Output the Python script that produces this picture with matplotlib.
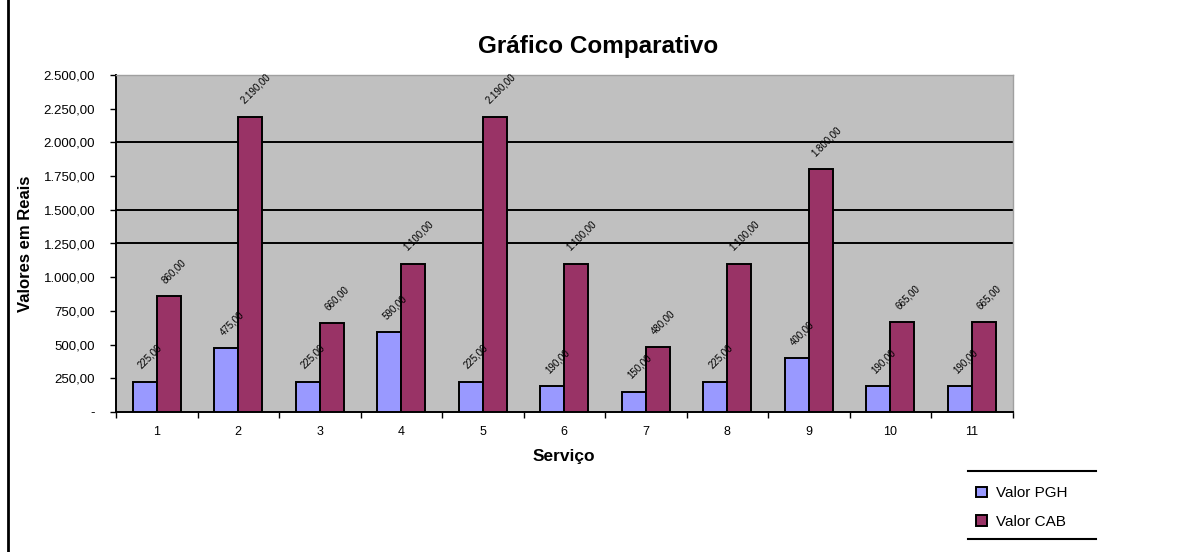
import matplotlib
matplotlib.use("Agg")
import matplotlib.pyplot as plt
from matplotlib.lines import Line2D
import numpy as np

plt.rcParams["font.family"] = ["Liberation Sans", "DejaVu Sans"]

# Service numbers and the two price series (R$)
servicos = ["1", "2", "3", "4", "5", "6", "7", "8", "9", "10", "11"]
valor_pgh = [225, 475, 225, 590, 225, 190, 150, 225, 400, 190, 190]
valor_cab = [860, 2190, 660, 1100, 2190, 1100, 480, 1100, 1800, 665, 665]
y_ticks = [0, 250, 500, 750, 1000, 1250, 1500, 1750, 2000, 2250, 2500]
grid_values = [1250, 1500, 2000]


def brl(v):
    """Format a number the Brazilian way: 1.234,00 ; zero shown as '-'."""
    if v == 0:
        return "-"
    s = f"{v:,.2f}"
    return s.replace(",", "X").replace(".", ",").replace("X", ".")


W, H = 1177, 552
fig = plt.figure(figsize=(W / 100, H / 100), dpi=100)
fig.patch.set_facecolor("white")

ax = fig.add_axes([116 / W, 1 - 412 / H, (1012.5 - 116) / W, (412 - 75) / H])
ax.set_facecolor("#C0C0C0")

x = np.arange(len(servicos))
bw = 0.295
pgh_bars = ax.bar(x - bw / 2, valor_pgh, bw, color="#9999FF", edgecolor="black",
                  linewidth=1.4, label="Valor PGH", zorder=3)
cab_bars = ax.bar(x + bw / 2, valor_cab, bw, color="#993366", edgecolor="black",
                  linewidth=1.4, label="Valor CAB", zorder=3)

for bars, vals in ((pgh_bars, valor_pgh), (cab_bars, valor_cab)):
    for b, v in zip(bars, vals):
        ax.annotate(brl(v), (b.get_x() + b.get_width() / 2, v),
                    xytext=(4, 8), textcoords="offset points",
                    rotation=45, ha="center", va="bottom",
                    fontsize=7, color="black", zorder=4)

for g in grid_values:
    ax.axhline(g, color="black", linewidth=1.4, zorder=1)

ax.set_xlim(-0.5, len(servicos) - 0.5)
ax.set_ylim(0, 2500)
ax.set_yticks(y_ticks)
ax.set_yticklabels([brl(v) for v in y_ticks], fontsize=9.5)
ax.set_xticks(x)
ax.set_xticklabels(servicos, fontsize=9)
ax.set_xticks(np.arange(-0.5, len(servicos)), minor=True)
ax.tick_params(axis="x", which="major", length=0, pad=10)
ax.tick_params(axis="x", which="minor", length=4, width=1, direction="out")
ax.tick_params(axis="y", length=4, width=1, direction="out", pad=11)

for side in ("top", "right"):
    ax.spines[side].set_color("#A0A0A0")
    ax.spines[side].set_linewidth(1)
for side in ("left", "bottom"):
    ax.spines[side].set_color("black")
    ax.spines[side].set_linewidth(1.4)

ax.set_xlabel("Serviço", fontsize=12.5, fontweight="bold", labelpad=8)
ax.set_ylabel("Valores em Reais", fontsize=12, fontweight="bold")
ax.yaxis.set_label_coords(-0.093, 0.5)

fig.text(598 / W, 1 - 47 / H, "Gráfico Comparativo", ha="center", va="center",
         fontsize=17.5, fontweight="bold")

# Legend with rules above and below
fig.legend(handles=[pgh_bars, cab_bars], labels=["Valor PGH", "Valor CAB"],
           loc="upper left", bbox_to_anchor=(964 / W, 1 - 474 / H),
           frameon=False, fontsize=11, handlelength=0.7, handleheight=0.7,
           handletextpad=0.6, labelspacing=0.95, borderpad=0.3)
for yy in (471, 539):
    fig.add_artist(Line2D([968 / W, 1096 / W], [1 - yy / H, 1 - yy / H],
                          color="black", linewidth=1.5))

# Left page rule
fig.add_artist(Line2D([8 / W, 8 / W], [0, 1], color="black", linewidth=2))

fig.savefig("out.png", dpi=100)
